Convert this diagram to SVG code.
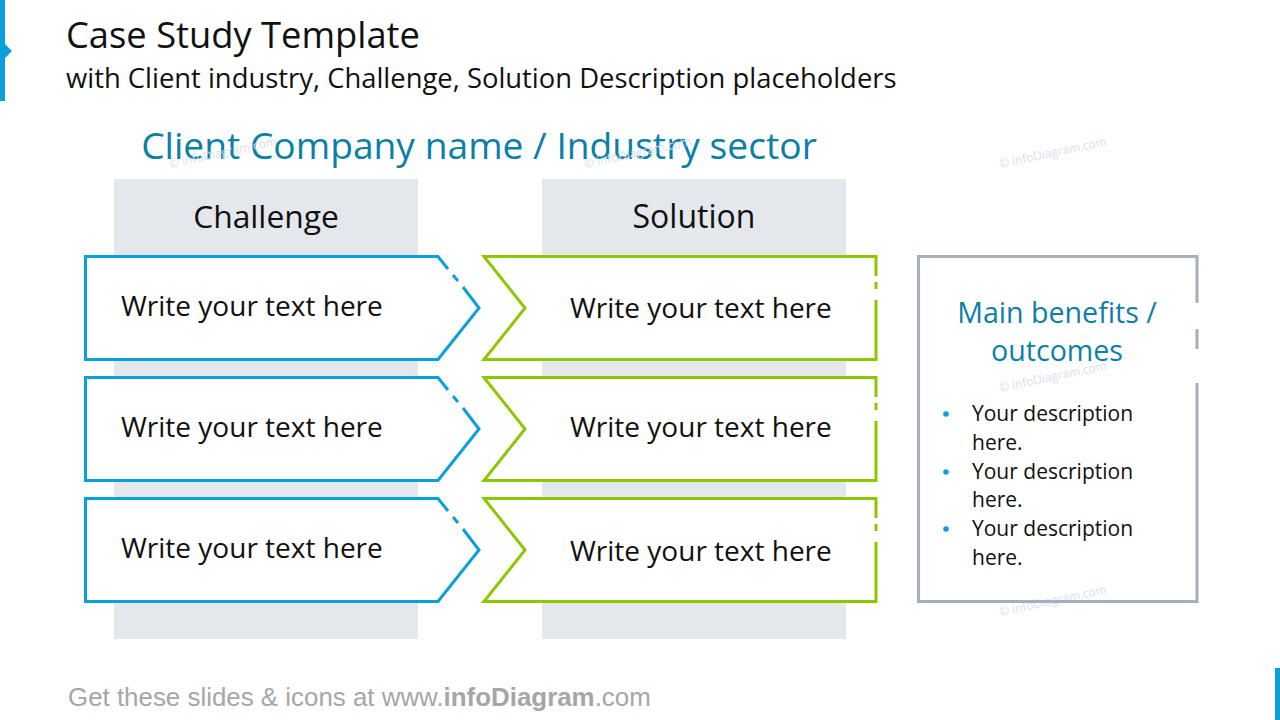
<svg xmlns="http://www.w3.org/2000/svg" width="1280" height="720" viewBox="0 0 1280 720">
<style>
  .t { font-family: "Open Sans", "Noto Sans", "DejaVu Sans", sans-serif; }
  .blk { fill: #111111; }
  .teal { fill: #0A7FA8; }
  .col { fill: #E4E7EC; }
  .blue { fill: none; stroke: #0AA0DC; stroke-width: 3; stroke-linejoin: miter; }
  .green { fill: none; stroke: #8CC800; stroke-width: 3; stroke-linejoin: miter; }
  .gray { fill: none; stroke: #A4AFBC; stroke-width: 3; }
  .wm { font-family: "Open Sans", sans-serif; font-size: 12px; fill: #D8E0EE; }
  .row { font-size: 28px; }
  .bul { font-size: 21px; }
</style>

<g id="accents">
  <path d="M0,0 H5 V44 L12,51 L5,58 V101 H0 Z" fill="#0AA0DC"/>
  <rect x="1275" y="668" width="5" height="52" fill="#0AA0DC"/>
</g>

<g id="header">
  <text class="t blk" x="66" y="48" font-size="36.3">Case Study Template</text>
  <text class="t blk" x="66" y="88" font-size="27.4">with Client industry, Challenge, Solution Description placeholders</text>
  <text class="t teal" x="479" y="159" font-size="37.2" text-anchor="middle">Client Company name / Industry sector</text>
</g>

<g id="watermarks">
  <text class="wm" transform="translate(1000,168) rotate(-12)">© infoDiagram.com</text>
  <text class="wm" transform="translate(1000,392) rotate(-12)">© infoDiagram.com</text>
  <text class="wm" transform="translate(1000,616) rotate(-12)">© infoDiagram.com</text>
  <text class="wm" transform="translate(170,168) rotate(-12)">© infoDiagram.com</text>
  <text class="wm" transform="translate(585,168) rotate(-12)">© infoDiagram.com</text>
</g>

<g id="challenge-column">
  <rect class="col" x="114" y="179" width="304" height="460"/>
  <text class="t blk" x="266" y="228" font-size="31.8" text-anchor="middle">Challenge</text>
</g>

<g id="solution-column">
  <rect class="col" x="542" y="179" width="304" height="460"/>
  <text class="t blk" x="694" y="228" font-size="32" text-anchor="middle">Solution</text>
</g>

<g id="challenge-1">
  <path d="M85,256.5 H438 L479,308 L438,359.5 H85 Z" fill="#fff"/>
  <path class="blue" d="M463,287 L479,308 L438,359.5 H85.5 V256.5 H438 L448,269"/>
  <path class="blue" d="M453,275 L458,281"/>
  <text class="t blk row" x="121" y="316">Write your text here</text>
</g>
<g id="challenge-2">
  <path d="M85,377.5 H438 L479,429 L438,480.5 H85 Z" fill="#fff"/>
  <path class="blue" d="M463,408 L479,429 L438,480.5 H85.5 V377.5 H438 L448,390"/>
  <path class="blue" d="M453,396 L458,402"/>
  <text class="t blk row" x="121" y="437">Write your text here</text>
</g>
<g id="challenge-3">
  <path d="M85,498.5 H438 L479,550 L438,601.5 H85 Z" fill="#fff"/>
  <path class="blue" d="M463,529 L479,550 L438,601.5 H85.5 V498.5 H438 L448,511"/>
  <path class="blue" d="M453,517 L458,523"/>
  <text class="t blk row" x="121" y="558">Write your text here</text>
</g>

<g id="solution-1">
  <path d="M484,256.5 H876 V359.5 H484 L525,308 Z" fill="#fff"/>
  <path class="green" d="M876,276 V256.5 H484 L525,308 L484,359.5 H876 V300"/>
  <path class="green" d="M876,282 V289"/>
  <text class="t blk row" x="570" y="318">Write your text here</text>
</g>
<g id="solution-2">
  <path d="M484,377.5 H876 V480.5 H484 L525,429 Z" fill="#fff"/>
  <path class="green" d="M876,397 V377.5 H484 L525,429 L484,480.5 H876 V421"/>
  <path class="green" d="M876,403 V410"/>
  <text class="t blk row" x="570" y="437">Write your text here</text>
</g>
<g id="solution-3">
  <path d="M484,498.5 H876 V601.5 H484 L525,550 Z" fill="#fff"/>
  <path class="green" d="M876,518 V498.5 H484 L525,550 L484,601.5 H876 V542"/>
  <path class="green" d="M876,524 V531"/>
  <text class="t blk row" x="570" y="561">Write your text here</text>
</g>

<g id="benefits">
  <path class="gray" d="M1197,303 V256.5 H918.5 V601.5 H1197 V383"/>
  <path class="gray" d="M1197,329 V349"/>
  <text class="t teal" x="1057" y="323" font-size="28.6" text-anchor="middle">Main benefits /</text>
  <text class="t teal" x="1057" y="361" font-size="28.6" text-anchor="middle">outcomes</text>
  <g fill="#0AA0DC">
    <circle cx="946" cy="414" r="2.8"/>
    <circle cx="946" cy="472" r="2.8"/>
    <circle cx="946" cy="529" r="2.8"/>
  </g>
  <g class="t blk bul">
    <text x="972" y="421">Your description</text>
    <text x="972" y="450">here.</text>
    <text x="972" y="479">Your description</text>
    <text x="972" y="507">here.</text>
    <text x="972" y="536">Your description</text>
    <text x="972" y="565">here.</text>
  </g>
</g>

<g id="footer">
  <text x="68" y="706" font-family="'Liberation Sans', 'DejaVu Sans', sans-serif" font-size="25.9" fill="#A6A6A6">Get these slides &amp; icons at www.<tspan font-weight="bold">infoDiagram</tspan>.com</text>
</g>
</svg>
